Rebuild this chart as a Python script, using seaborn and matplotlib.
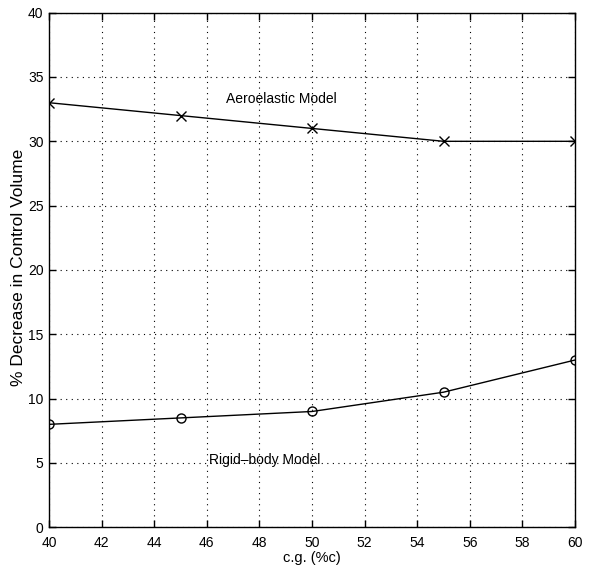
import matplotlib
matplotlib.use("Agg")
import matplotlib.pyplot as plt
import seaborn as sns
import pandas as pd

cg = [40, 45, 50, 55, 60]
aeroelastic = [33, 32, 31, 30, 30]
rigid_body = [8, 8.5, 9, 10.5, 13]
x_ticks = list(range(40, 61, 2))
y_ticks = list(range(0, 41, 5))

sns.set_theme(style="white")
plt.rcParams['font.family'] = ['Liberation Sans', 'DejaVu Sans']
plt.rcParams['font.size'] = 10

fig = plt.figure(figsize=(5.91, 5.75), dpi=100)
ax = fig.add_axes([0.083, 0.083, 0.890, 0.895])

df_a = pd.DataFrame({"cg": cg, "val": aeroelastic})
df_r = pd.DataFrame({"cg": cg, "val": rigid_body})
sns.lineplot(data=df_a, x="cg", y="val", ax=ax, color="black", lw=1.0,
             marker="x", markersize=7, markeredgewidth=1.0, markeredgecolor="black")
sns.lineplot(data=df_r, x="cg", y="val", ax=ax, color="black", lw=1.0,
             marker="o", markersize=6.5, markerfacecolor="none",
             markeredgewidth=1.0, markeredgecolor="black")

ax.set_xlim(40, 60)
ax.set_ylim(0, 40)
ax.set_xticks(x_ticks)
ax.set_yticks(y_ticks)
ax.grid(True, color="black", linestyle=(0, (1, 4)), linewidth=0.8)
for s in ax.spines.values():
    s.set_color("black")
    s.set_linewidth(1.0)
ax.tick_params(axis="both", direction="in", length=5, width=1, colors="black",
               top=True, right=True, bottom=True, left=True, labelsize=10)
ax.tick_params(axis="x", pad=6)
ax.tick_params(axis="y", pad=4)
ax.set_xlabel("c.g. (%c)", fontsize=10.5, color="black", labelpad=1)
ax.set_ylabel("% Decrease in Control Volume", fontsize=12.5, color="black")
ax.yaxis.label.set_va("center")
ax.yaxis.set_label_coords(-0.058, 0.505)

ax.text(48.85, 33.3, "Aeroelastic Model", ha="center", va="center", fontsize=10, color="black")
ax.text(48.2, 5.2, "Rigid\u2013body Model", ha="center", va="center", fontsize=10, color="black")

fig.savefig("out.png", dpi=100)
